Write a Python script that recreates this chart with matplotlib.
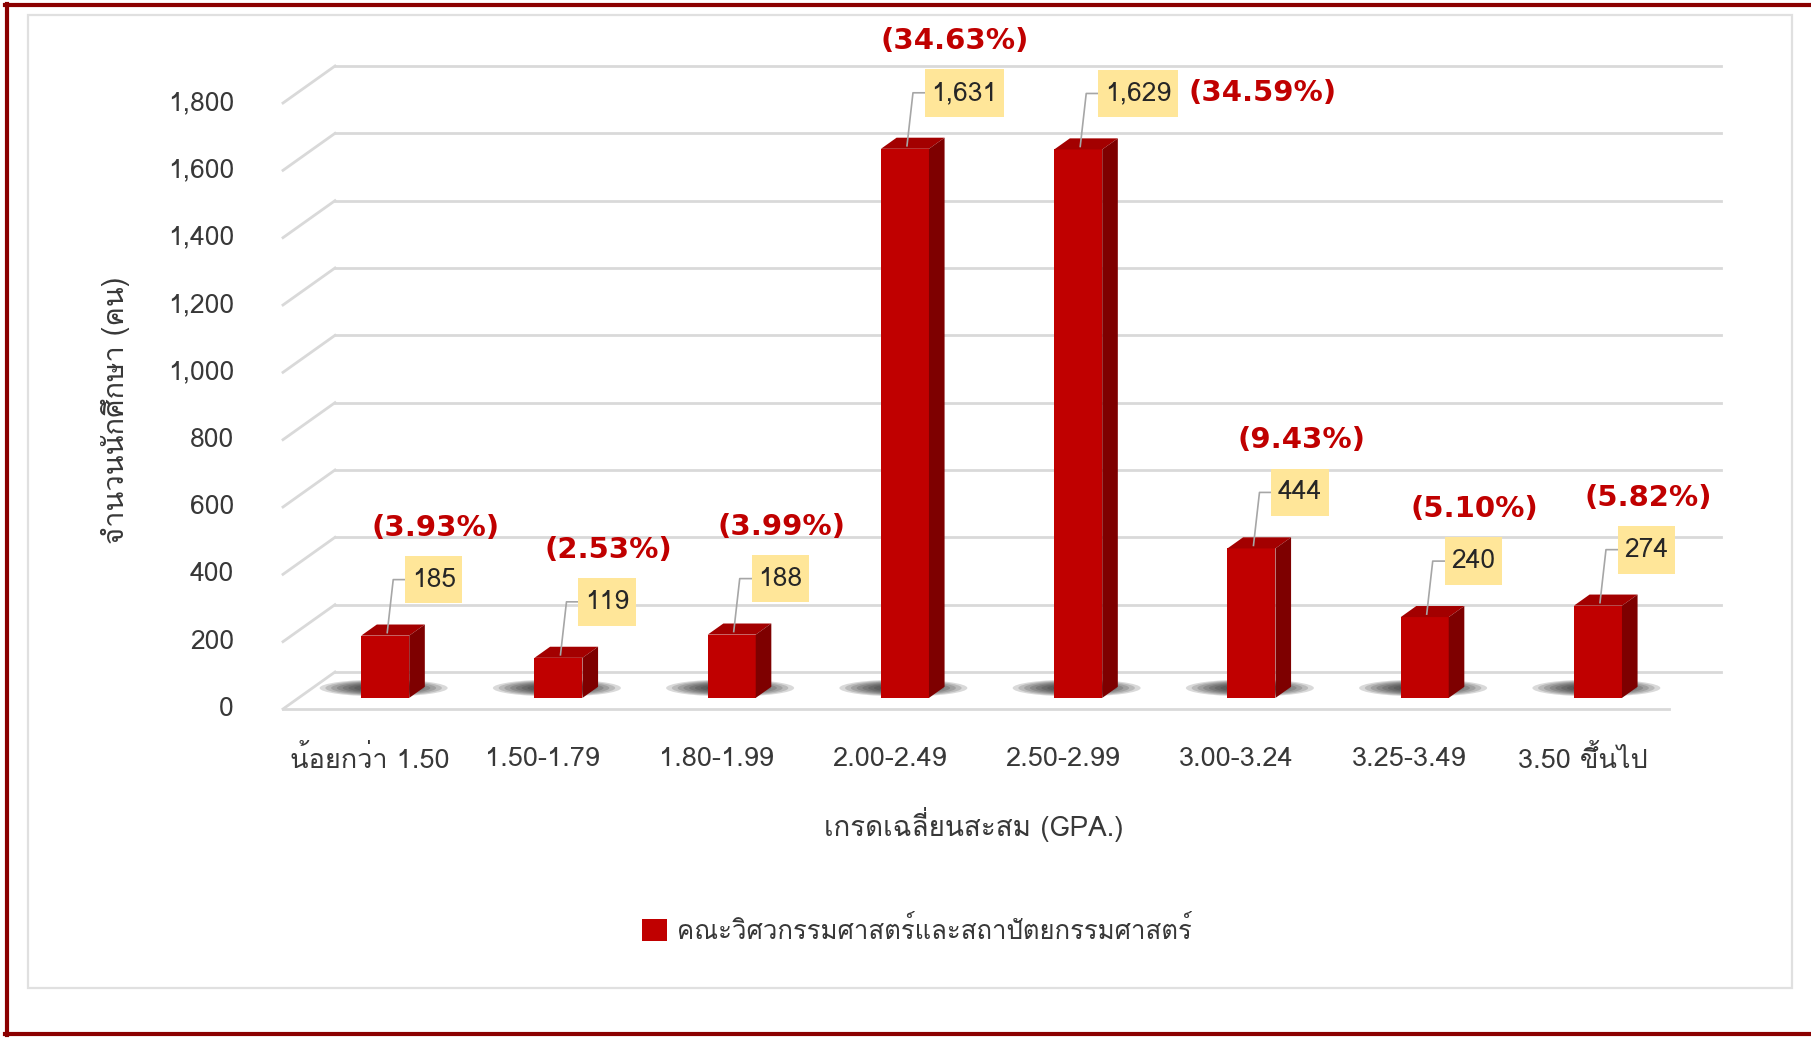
import numpy as np
import matplotlib
matplotlib.use("Agg")
import matplotlib.pyplot as plt
import matplotlib.font_manager as fm
from matplotlib.ft2font import FT2Font
from matplotlib.patches import Polygon, Ellipse, Rectangle
from matplotlib.lines import Line2D
from matplotlib.path import Path

# data
categories = ['น้อยกว่า 1.50', '1.50-1.79', '1.80-1.99', '2.00-2.49',
              '2.50-2.99', '3.00-3.24', '3.25-3.49', '3.50 ขึ้นไป']
students = [185, 119, 188, 1631, 1629, 444, 240, 274]
percents = ['3.93', '2.53', '3.99', '34.63', '34.59', '9.43', '5.10', '5.82']
yticks = list(range(0, 1801, 200))
series_name = 'คณะวิศวกรรมศาสตร์และสถาปัตยกรรมศาสตร์'
ylabel = 'จำนวนนักศึกษา (คน)'
xlabel = 'เกรดเฉลี่ยนสะสม (GPA.)'

# pick a font that has thai glyphs
thai = set()
for f in fm.fontManager.ttflist:
    try:
        cm = FT2Font(f.fname).get_charmap()
    except Exception:
        continue
    if 0x0E01 in cm:
        thai.add(f.name)
thai_font = None
for p in ['Tahoma', 'Loma', 'Noto Sans Thai', 'Garuda', 'Waree']:
    if p in thai:
        thai_font = p
        break
if thai_font is None and thai:
    thai_font = sorted(thai)[0]
plt.rcParams['font.family'] = ([thai_font] if thai_font else []) + ['DejaVu Sans']

W, H = 1811, 1038
fig = plt.figure(figsize=(W / 100, H / 100), dpi=100)
fig.patch.set_facecolor('white')

# front plane of the 3d box, in pixels
L, R, B, T = 283, 1669, 709, 103
ax = fig.add_axes([L / W, 1 - B / H, (R - L) / W, (B - T) / H])
ax.set_xlim(-0.5, 7.5)
ax.set_ylim(0, 1800)
ax.axis('off')

PXX = (R - L) / 8.0
PXY = (B - T) / 1800.0


def dx(px):
    return px / PXX


def dy(py):
    return py / PXY


DEPTH = (52, 37)
grid_c = '#d9d9d9'
for v in yticks:
    ax.plot([-0.5, -0.5 + dx(DEPTH[0])], [v, v + dy(DEPTH[1])], color=grid_c, lw=2,
            zorder=1, clip_on=False)
    ax.plot([-0.5 + dx(DEPTH[0]), 7.5 + dx(DEPTH[0])], [v + dy(DEPTH[1])] * 2, color=grid_c,
            lw=2, zorder=1, clip_on=False)
ax.plot([-0.5, 7.5], [0, 0], color=grid_c, lw=2, zorder=1, clip_on=False)

txt_c = '#383838'
for v in yticks:
    ax.text(-0.5 - dx(49), v, f'{v:,}', ha='right', va='center', fontsize=19, color=txt_c)

x = np.arange(len(categories))
off_x, off_y = dx(15.6), dy(11.1)
bw = 0.277

# soft shadows on the floor
for xi in x:
    for k in range(9):
        s = 1 - k * 0.09
        ax.add_patch(Ellipse((xi + dx(14), dy(21)), dx(128) * s, dy(17) * s,
                             color='#222222', alpha=0.17, lw=0, zorder=2, clip_on=False))

bars = ax.bar(x + off_x, students, width=bw, bottom=off_y, color='#C00000',
              zorder=4, label=series_name, clip_on=False)
for xi, v in zip(x, students):
    xl, xr = xi + off_x - bw / 2, xi + off_x + bw / 2
    top, bot = v + off_y, off_y
    ax.add_patch(Polygon([(xl, top), (xr, top), (xr + off_x, top + off_y), (xl + off_x, top + off_y)],
                         closed=True, fc='#A30000', ec='none', zorder=5, clip_on=False))
    ax.add_patch(Polygon([(xr, bot), (xr + off_x, bot + off_y), (xr + off_x, top + off_y), (xr, top)],
                         closed=True, fc='#7E0000', ec='none', zorder=5, clip_on=False))


def tall_box(x0, y0, width, height, mutation_size):
    px = 0.25 * mutation_size
    py = 0.45 * mutation_size
    return Path([(x0 - px, y0 - py), (x0 + width + px, y0 - py),
                 (x0 + width + px, y0 + height + py), (x0 - px, y0 + height + py),
                 (x0 - px, y0 - py)], closed=True)


box_fs = 19
pad_px = 0.25 * box_fs * 100 / 72
for i, (xi, v, p) in enumerate(zip(x, students, percents)):
    bx = xi + off_x
    top = v + off_y
    by = top + dy(56)
    ax.plot([bx + dx(2), bx + dx(8), bx + dx(20)], [top + dy(3), by, by],
            color='#a6a6a6', lw=1.2, zorder=6, clip_on=False)
    ax.text(bx + dx(20 + pad_px), by, f'{v:,}', ha='left', va='center', fontsize=box_fs,
            color='#262626', zorder=7,
            bbox=dict(boxstyle=tall_box, fc='#FFE699', ec='none'))
    if i == 4:
        ax.text(bx + dx(110), by, f'({p}%)', ha='left', va='center', fontsize=21,
                fontweight='bold', color='#C00000', family='DejaVu Sans', zorder=7)
    else:
        ax.text(bx + dx(50), top + dy(108), f'({p}%)', ha='center', va='center', fontsize=21,
                fontweight='bold', color='#C00000', family='DejaVu Sans', zorder=7)

for xi, c in zip(x, categories):
    ax.text(xi, -dy(50), c, ha='center', va='center', fontsize=19.5, color=txt_c)

fig.text(974 / W, 1 - 824 / H, xlabel, ha='center', va='center', fontsize=20, color=txt_c)
fig.text(115 / W, 1 - 410 / H, ylabel, ha='center', va='center', rotation=90, fontsize=21,
         color=txt_c)

ax.legend(handles=[bars], loc='center', bbox_to_anchor=(917 / W, 1 - 930 / H),
          bbox_transform=fig.transFigure, frameon=False, fontsize=18.5, handlelength=0.95,
          handleheight=0.95, handletextpad=0.4, labelcolor=txt_c)

# inner light frame and outer dark red border
fig.add_artist(Rectangle((28 / W, 1 - 988 / H), (1792 - 28) / W, (988 - 15) / H,
                         transform=fig.transFigure, fill=False, ec='#e0e0e0', lw=1.6))
bc = '#8B0000'
fig.add_artist(Line2D([5 / W, 1], [1 - 5 / H] * 2, transform=fig.transFigure, color=bc, lw=3))
fig.add_artist(Line2D([5 / W, 1], [1 - 1034 / H] * 2, transform=fig.transFigure, color=bc, lw=3))
fig.add_artist(Line2D([6.5 / W] * 2, [1 - 4 / H, 1 - 1035 / H], transform=fig.transFigure,
                      color=bc, lw=3))

fig.savefig('out.png', dpi=100)
